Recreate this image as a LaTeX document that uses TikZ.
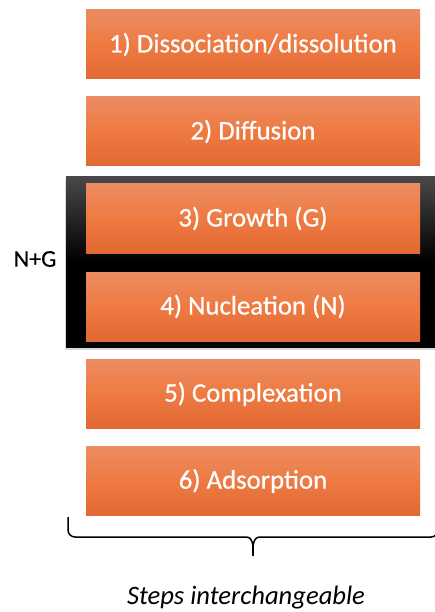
\documentclass[tikz,border=0pt]{standalone}
\usepackage{fontspec}
\setmainfont{Carlito}
\usetikzlibrary{shadows}
\definecolor{otop}{RGB}{236,140,98}
\definecolor{omid}{RGB}{238,122,66}
\definecolor{obot}{RGB}{225,104,50}
\definecolor{ftop}{RGB}{72,72,72}
\begin{document}
\begin{tikzpicture}[x=1pt,y=-1pt,
  stepbox/.style={minimum width=334pt,minimum height=69pt,inner sep=0pt,
    top color=otop,bottom color=obot,middle color=omid,draw=none,
    text=white,font=\fontsize{26.8}{30}\selectfont\addfontfeature{FakeBold=0.6}},
  frame/.style={minimum width=372pt,minimum height=170pt,inner sep=0pt,
    top color=ftop,bottom color=black,middle color=black,draw=none,
    drop shadow={shadow xshift=-1.5pt,shadow yshift=-3pt,opacity=0.3}}]
\useasboundingbox (0,0) rectangle (435,612);
\node[frame] (fr) at (252,262) {};
\node[stepbox] (s1) at (253,44.5) {1) Dissociation/dissolution};
\node[stepbox] (s2) at (253,131.5) {2) Diffusion};
\node[stepbox] (s3) at (253,218.5) {3) Growth (G)};
\node[stepbox] (s4) at (253,306.5) {4) Nucleation (N)};
\node[stepbox] (s5) at (253,394) {5) Complexation};
\node[stepbox] (s6) at (253,481) {6) Adsorption};
\node[font=\fontsize{24}{28}\selectfont\addfontfeature{FakeBold=0.3}] (ng) at (35,259) {N+G};
\coordinate (bl) at (68,517);
\coordinate (bt) at (253,556);
\coordinate (br) at (438,517);
\draw[line width=1.5pt] (bl) -- (68,530) to[out=-90,in=180] (75,537) -- (246,537)
  to[out=0,in=90] (bt) to[out=90,in=180] (260,537) -- (431,537) to[out=0,in=-90] (438,530) -- (br);
\node[font=\fontsize{26.6}{30}\selectfont\itshape] (lab) at (246,598) {Steps interchangeable};
\end{tikzpicture}
\end{document}
